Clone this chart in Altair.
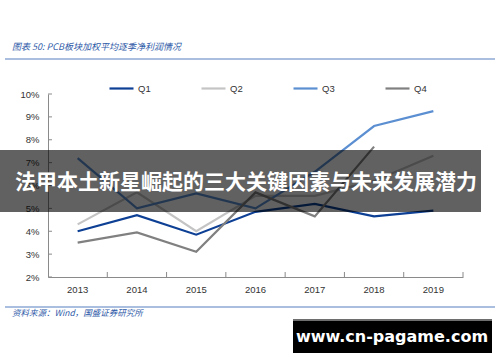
import altair as alt
import pandas as pd

years = ["2013", "2014", "2015", "2016", "2017", "2018", "2019"]
series = ["Q1", "Q2", "Q3", "Q4"]
q1 = [4.0, 4.7, 3.85, 4.85, 5.2, 4.65, 4.9]
q2 = [4.3, 5.7, 4.0, 5.55, 5.55, 6.2, 7.3]
q3 = [7.2, 5.0, 5.65, 5.0, 6.6, 8.6, 9.25]
q4 = [3.5, 3.95, 3.1, 5.7, 4.65, 7.7, None]
y_ticks = [2, 3, 4, 5, 6, 7, 8, 9, 10]

colors = ["#0d3f94", "#c4c4c4", "#5b8fd2", "#808080"]
widths = [2.2, 2.2, 2.2, 3.6]

title_text = "图表 50:  PCB板块加权平均逐季净利润情况"
source_text = "资料来源：Wind，国盛证券研究所"
banner_text = "法甲本土新星崛起的三大关键因素与未来发展潜力"
mark_text_ = "www.cn-pagame.com"

W, H = 415, 183
L, T = 48, 94

rows = []
for s, vals in zip(series, [q1, q2, q3, q4]):
    for y, v in zip(years, vals):
        if v is not None:
            rows.append({"year": y, "series": s, "value": v})
df = pd.DataFrame(rows)

xscale = alt.Scale(type="band", domain=years, paddingInner=0, paddingOuter=0)
yscale = alt.Scale(domain=[2, 10], nice=False, zero=False)

leg = alt.Legend(title=None, orient="none", legendX=60, legendY=-19,
                 direction="horizontal", columns=4, symbolType="stroke",
                 symbolSize=576, labelOffset=3, columnPadding=46,
                 labelFont="Liberation Sans", labelFontSize=9.5,
                 labelColor="#333333")

xaxis = alt.Axis(title=None, labelAngle=0, ticks=False, domainColor="#8a8a8a",
                 labelFont="Liberation Sans", labelFontSize=9.5, labelColor="#333333",
                 labelPadding=7, grid=False)
yaxis = alt.Axis(title=None, values=y_ticks, ticks=False, grid=False, domainColor="#8a8a8a",
                 labelExpr="datum.value + '%'", labelFont="Liberation Sans",
                 labelFontSize=9.5, labelColor="#333333", labelPadding=9, labelOverlap=False)

lines = alt.Chart(df).mark_line(strokeCap="butt", strokeJoin="miter").encode(
    x=alt.X("year:O", scale=xscale, bandPosition=0.5, axis=xaxis),
    y=alt.Y("value:Q", scale=yscale, axis=yaxis),
    color=alt.Color("series:N", scale=alt.Scale(domain=series, range=colors), legend=leg),
    strokeWidth=alt.StrokeWidth("series:N", scale=alt.Scale(domain=series, range=widths), legend=leg),
    detail="series:N",
)

ytick_df = pd.DataFrame({"value": y_ticks})
yticks = alt.Chart(ytick_df).mark_rule(color="#8a8a8a", strokeWidth=1).encode(
    y=alt.Y("value:Q", scale=yscale, axis=yaxis),
    x=alt.value(0), x2=alt.value(4),
)

xtick_df = pd.DataFrame({"year": years})
xticks = alt.Chart(xtick_df).mark_rule(color="#8a8a8a", strokeWidth=1).encode(
    x=alt.X("year:O", scale=xscale, bandPosition=1, axis=xaxis),
    y=alt.value(H - 5), y2=alt.value(H),
)

one = pd.DataFrame({"a": [0]})
hline_top = alt.Chart(one).mark_rule(color="#8eaad6", strokeWidth=1.5).encode(
    y=alt.value(-35), x=alt.value(-43), x2=alt.value(447),
)
hline_bot = alt.Chart(one).mark_rule(color="#8eaad6", strokeWidth=1.5).encode(
    y=alt.value(213), x=alt.value(-43), x2=alt.value(447),
)

title = alt.Chart(pd.DataFrame({"t": [title_text]})).mark_text(
    align="left", baseline="middle", font="Noto Sans CJK SC", fontSize=9, fontStyle="italic",
    color="#2e5aa8"
).encode(x=alt.value(-36), y=alt.value(-47), text="t:N")

source = alt.Chart(pd.DataFrame({"t": [source_text]})).mark_text(
    align="left", baseline="middle", font="Noto Sans CJK SC", fontSize=8.5, fontStyle="italic",
    color="#2e5aa8"
).encode(x=alt.value(-36), y=alt.value(219), text="t:N")

banner_rect = alt.Chart(one).mark_rect(color="#000000", opacity=0.62).encode(
    x=alt.value(-48), x2=alt.value(433), y=alt.value(56), y2=alt.value(118)
)
banner = alt.Chart(pd.DataFrame({"t": [banner_text]})).mark_text(
    align="center", baseline="middle", font="Noto Sans CJK SC", fontSize=21, fontWeight="bold",
    color="#ffffff"
).encode(x=alt.value(198), y=alt.value(89), text="t:N")

wm_rect = alt.Chart(one).mark_rect(color="#000000").encode(
    x=alt.value(245), x2=alt.value(444), y=alt.value(225), y2=alt.value(259)
)
wm_top = alt.Chart(one).mark_rect(color="#6e6e6e").encode(
    x=alt.value(245), x2=alt.value(444), y=alt.value(225), y2=alt.value(227)
)
wm = alt.Chart(pd.DataFrame({"t": [mark_text_]})).mark_text(
    align="center", baseline="middle", font="DejaVu Sans", fontSize=16, fontWeight="bold",
    color="#ffffff"
).encode(x=alt.value(344), y=alt.value(243), text="t:N")

chart = alt.layer(
    hline_top, hline_bot, title, source, lines, yticks, xticks,
    banner_rect, banner, wm_rect, wm_top, wm
).properties(
    width=W, height=H,
    autosize=alt.AutoSizeParams(type="none"),
    padding={"left": L, "top": T, "right": 500 - L - W, "bottom": 362 - T - H},
    view=alt.ViewBackground(stroke="transparent", strokeOpacity=0, strokeWidth=0),
).configure_view(stroke="transparent", strokeOpacity=0, strokeWidth=0).configure(background="#ffffff")

chart.save("out.html", embed_options={"renderer": "svg", "actions": False})
